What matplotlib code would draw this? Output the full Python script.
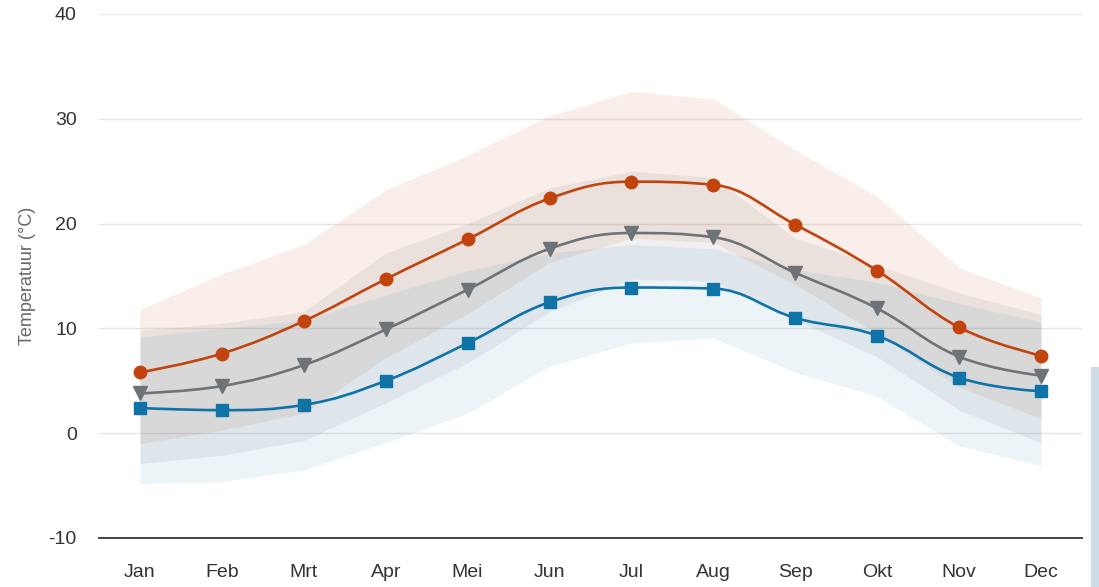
import numpy as np
import matplotlib.pyplot as plt
from matplotlib.path import Path
from matplotlib.patches import PathPatch, Rectangle

plt.rcParams['font.family'] = ['Liberation Sans', 'DejaVu Sans']
plt.rcParams['axes.unicode_minus'] = False

months = ["Jan", "Feb", "Mrt", "Apr", "Mei", "Jun", "Jul", "Aug", "Sep", "Okt", "Nov", "Dec"]

# average values per month
t_max = [5.8, 7.6, 10.7, 14.7, 18.5, 22.4, 24.0, 23.7, 19.9, 15.5, 10.1, 7.4]
t_mean = [3.8, 4.5, 6.5, 9.9, 13.7, 17.6, 19.1, 18.7, 15.3, 11.9, 7.3, 5.5]
t_min = [2.4, 2.2, 2.7, 5.0, 8.6, 12.5, 13.9, 13.8, 11.0, 9.3, 5.3, 4.0]

# ranges around each series
max_high = [11.8, 15.2, 18.0, 23.2, 26.5, 30.3, 32.6, 31.9, 27.0, 22.6, 15.8, 12.9]
max_low = [-1.0, 0.3, 1.9, 7.2, 11.4, 16.3, 18.6, 18.2, 14.2, 9.5, 4.4, 1.4]
mean_high = [9.8, 10.5, 11.6, 17.2, 20.0, 23.4, 25.0, 24.4, 18.6, 16.0, 13.4, 11.3]
mean_low = [-2.9, -2.1, -0.7, 2.9, 6.7, 11.6, 14.7, 14.5, 10.8, 7.3, 2.2, -0.9]
min_high = [9.2, 10.0, 10.8, 13.2, 15.5, 17.2, 18.0, 17.6, 15.6, 14.4, 12.4, 10.6]
min_low = [-4.8, -4.6, -3.5, -0.9, 1.9, 6.4, 8.6, 9.1, 5.8, 3.5, -1.2, -3.1]

c_max = "#c1440e"
c_mean = "#6e7377"
c_min = "#0f73a8"


def spline_path(x, y, smoothing=1.5):
    # bezier segments through the points, same idea as a highcharts spline
    n = len(x)
    denom = smoothing + 1
    left = [None] * n
    right = [None] * n
    for i in range(n):
        if i == 0 or i == n - 1:
            left[i] = (x[i], y[i])
            right[i] = (x[i], y[i])
            continue
        lx = (smoothing * x[i] + x[i - 1]) / denom
        ly = (smoothing * y[i] + y[i - 1]) / denom
        rx = (smoothing * x[i] + x[i + 1]) / denom
        ry = (smoothing * y[i] + y[i + 1]) / denom
        corr = (ry - ly) * (rx - x[i]) / (rx - lx) + y[i] - ry
        ly += corr
        ry += corr
        if ly > y[i - 1] and ly > y[i]:
            ly = max(y[i - 1], y[i])
            ry = 2 * y[i] - ly
        elif ly < y[i - 1] and ly < y[i]:
            ly = min(y[i - 1], y[i])
            ry = 2 * y[i] - ly
        if ry > y[i + 1] and ry > y[i]:
            ry = max(y[i + 1], y[i])
            ly = 2 * y[i] - ry
        elif ry < y[i + 1] and ry < y[i]:
            ry = min(y[i + 1], y[i])
            ly = 2 * y[i] - ry
        left[i] = (lx, ly)
        right[i] = (rx, ry)
    verts = [(x[0], y[0])]
    codes = [Path.MOVETO]
    for i in range(1, n):
        verts += [right[i - 1], left[i], (x[i], y[i])]
        codes += [Path.CURVE4] * 3
    return Path(verts, codes)


fig = plt.figure(figsize=(10.99, 5.87), dpi=100)
ax = fig.add_axes([99 / 1099, 49 / 587, 983 / 1099, 524 / 587])

x = np.arange(len(months))

ax.fill_between(x, max_low, max_high, color=c_max, alpha=0.09, lw=0, zorder=1)
ax.fill_between(x, mean_low, mean_high, color=c_mean, alpha=0.10, lw=0, zorder=1)
ax.fill_between(x, min_low, min_high, color=c_min, alpha=0.08, lw=0, zorder=1)

for vals, col, mk, ms in [(t_min, c_min, "s", 8.5), (t_mean, c_mean, "v", 9.5), (t_max, c_max, "o", 9)]:
    ax.add_patch(PathPatch(spline_path(x, vals), fill=False, edgecolor=col, lw=1.9, zorder=3))
    ax.plot(x, vals, ls="none", marker=mk, ms=ms, color=col, mec=col, zorder=4)

ax.set_xlim(-0.5, 11.5)
ax.set_ylim(-10, 40)
ax.set_yticks([-10, 0, 10, 20, 30, 40])
ax.set_xticks(x)
ax.set_xticklabels(months)
ax.grid(axis="y", color="#e6e6e6", lw=1, zorder=0)
ax.set_axisbelow(True)
for s in ["top", "right", "left"]:
    ax.spines[s].set_visible(False)
ax.spines["bottom"].set_color("#333333")
ax.spines["bottom"].set_linewidth(1.3)
ax.spines["bottom"].set_zorder(5)
ax.tick_params(length=0, labelsize=14, colors="#333333")
ax.tick_params(axis="y", pad=16)
ax.tick_params(axis="x", pad=19)
ax.set_ylabel("Temperatuur (°C)", fontsize=13, color="#666666", labelpad=9)

# bit of the page at the right edge of the screenshot
fig.patches.append(Rectangle((1091 / 1099, 0), 8 / 1099, 220 / 587, transform=fig.transFigure,
                             facecolor="#cfdbe5", edgecolor="none"))

plt.savefig("out.png", dpi=100)
